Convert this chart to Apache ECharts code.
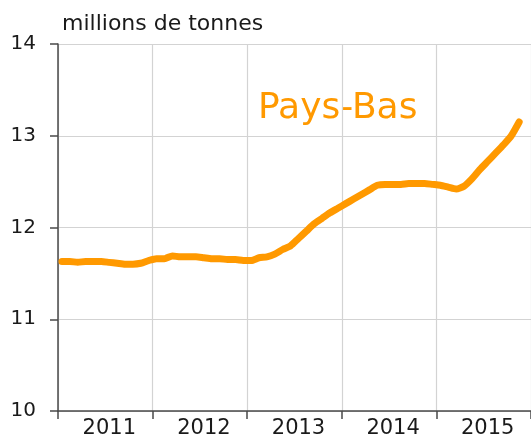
<!DOCTYPE html>
<html lang="fr">
  <head>
    <meta charset="UTF-8" />
    <title>Pays-Bas</title>
    <script src="https://cdn.jsdelivr.net/npm/echarts@6/dist/echarts.min.js"></script>
    <style>
      html, body { margin: 0; padding: 0; background: #fff; }
      #chart { width: 531px; height: 441px; }
    </style>
  </head>
  <body>
    <div id="chart"></div>
    <script>
      // années affichées sous l'axe
      var years = ['2011', '2012', '2013', '2014', '2015'];
      var startYear = 2011;
      // valeurs mensuelles (millions de tonnes), janv. 2011 -> nov. 2015
      var values = [
        11.63, 11.63, 11.62, 11.63, 11.63, 11.63, 11.62, 11.61, 11.60, 11.60, 11.61, 11.64,
        11.66, 11.66, 11.69, 11.68, 11.68, 11.68, 11.67, 11.66, 11.66, 11.65, 11.65, 11.64,
        11.64, 11.67, 11.68, 11.71, 11.76, 11.80, 11.88, 11.96, 12.04, 12.10, 12.16, 12.21,
        12.26, 12.31, 12.36, 12.41, 12.46, 12.47, 12.47, 12.47, 12.48, 12.48, 12.48, 12.47,
        12.46, 12.44, 12.42, 12.45, 12.53, 12.63, 12.72, 12.81, 12.90, 13.00, 13.15
      ];
      var yTicks = { min: 10, max: 14, interval: 1 };

      var points = values.map(function (v, i) {
        return [startYear + (i + 0.5) / 12, v];
      });

      var gridColor = '#d3d3d3';
      var axisColor = '#4a4a4a';
      var orange = '#ff9900';
      var font = 'DejaVu Sans';

      var chart = echarts.init(document.getElementById('chart'));
      chart.setOption({
        animation: false,
        textStyle: { fontFamily: font },
        grid: { left: 58, top: 44, width: 475, height: 367 },
        graphic: [
          {
            type: 'text',
            left: 62,
            top: 13,
            style: { text: 'millions de tonnes', font: '22px "DejaVu Sans"', fill: '#1a1a1a' }
          },
          {
            type: 'text',
            left: 258,
            top: 91,
            style: { text: 'Pays-Bas', font: '36px "DejaVu Sans"', fill: orange }
          }
        ],
        xAxis: [
          {
            type: 'value',
            min: startYear,
            max: startYear + years.length,
            show: false
          },
          {
            type: 'category',
            data: years,
            boundaryGap: true,
            position: 'bottom',
            axisLine: { lineStyle: { color: axisColor, width: 1.5 } },
            axisTick: { show: true, length: 8, lineStyle: { color: axisColor, width: 1.5 } },
            axisLabel: { color: '#1a1a1a', fontSize: 21, margin: 7, padding: [0, 0, 0, 8] },
            splitLine: { show: true, interval: 0, lineStyle: { color: gridColor, width: 1.2 } }
          }
        ],
        yAxis: {
          type: 'value',
          min: yTicks.min,
          max: yTicks.max,
          interval: yTicks.interval,
          axisLine: { show: true, lineStyle: { color: axisColor, width: 1.5 } },
          axisTick: { show: true, length: 8, lineStyle: { color: axisColor, width: 1.5 } },
          axisLabel: { color: '#1a1a1a', fontSize: 20, margin: 22 },
          splitLine: { show: true, lineStyle: { color: gridColor, width: 1.2 } }
        },
        series: [
          {
            type: 'line',
            xAxisIndex: 0,
            data: points,
            showSymbol: false,
            smooth: 0.2,
            lineStyle: { color: orange, width: 7, cap: 'round', join: 'round' }
          }
        ]
      });
    </script>
  </body>
</html>
